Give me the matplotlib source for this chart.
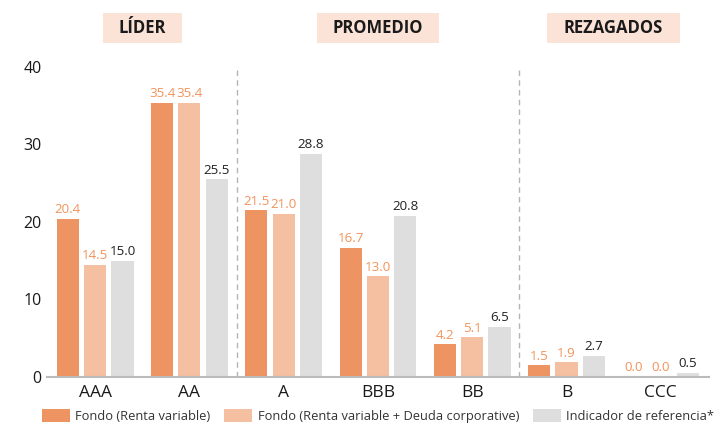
import numpy as np
import matplotlib.pyplot as plt
from matplotlib.patches import Rectangle

plt.rcParams['font.family'] = ['Open Sans', 'DejaVu Sans']

categories = ['AAA', 'AA', 'A', 'BBB', 'BB', 'B', 'CCC']
fondo_rv = [20.4, 35.4, 21.5, 16.7, 4.2, 1.5, 0.0]
fondo_rv_dc = [14.5, 35.4, 21.0, 13.0, 5.1, 1.9, 0.0]
indicador = [15.0, 25.5, 28.8, 20.8, 6.5, 2.7, 0.5]
series_names = ['Fondo (Renta variable)', 'Fondo (Renta variable + Deuda corporative)',
                'Indicador de referencia*']
groups = ['LÍDER', 'PROMEDIO', 'REZAGADOS']
group_centers = [0.5, 3.0, 5.5]
group_box_widths = [0.84, 1.30, 1.41]
separators = [1.5, 4.5]

colors = ['#EE9463', '#F5BFA1', '#DEDEDE']
label_colors = ['#F2935C', '#F2935C', '#222222']

fig = plt.figure(figsize=(7.17, 4.26), dpi=100)
ax = fig.add_axes([0.0656, 0.115, 0.923, 0.728])

x = np.arange(len(categories))
width = 0.235
offset = 0.29
for i, vals in enumerate([fondo_rv, fondo_rv_dc, indicador]):
    pos = x + (i - 1) * offset
    ax.bar(pos, vals, width, color=colors[i], label=series_names[i], zorder=2)
    for p, v in zip(pos, vals):
        ax.text(p, v + 0.35, f'{v:.1f}', ha='center', va='bottom', fontsize=9.6,
                color=label_colors[i])

for s in separators:
    ax.axvline(s, color='#B5B5B5', linestyle=(0, (4, 3)), linewidth=1, zorder=1)

for g, c, w in zip(groups, group_centers, group_box_widths):
    ax.add_patch(Rectangle((c - w / 2, 43.1), w, 3.9, facecolor='#FCE3D8',
                           edgecolor='none', clip_on=False))
    ax.text(c, 45.05, g, ha='center', va='center', fontsize=12, fontweight='bold',
            color='#1a1a1a', clip_on=False)

ax.set_xlim(-0.51, 6.51)
ax.set_ylim(0, 40)
ax.set_yticks([0, 10, 20, 30, 40])
ax.set_xticks(x)
ax.set_xticklabels(categories, fontsize=12.5, color='#1a1a1a')
ax.tick_params(axis='y', labelsize=11.5, length=0, pad=4, labelcolor='#1a1a1a')
ax.tick_params(axis='x', length=0, pad=6)
for sp in ['top', 'right', 'left']:
    ax.spines[sp].set_visible(False)
ax.spines['bottom'].set_color('#BBBBBB')
ax.spines['bottom'].set_linewidth(1.5)

ax.legend(loc='center', bbox_to_anchor=(0.5, -0.126), ncol=3, frameon=False,
          fontsize=9.3, handlelength=2.2, handleheight=1.1, columnspacing=1.05,
          handletextpad=0.4, labelcolor='#333333', borderaxespad=0, borderpad=0)

fig.savefig('out.png', dpi=100)
